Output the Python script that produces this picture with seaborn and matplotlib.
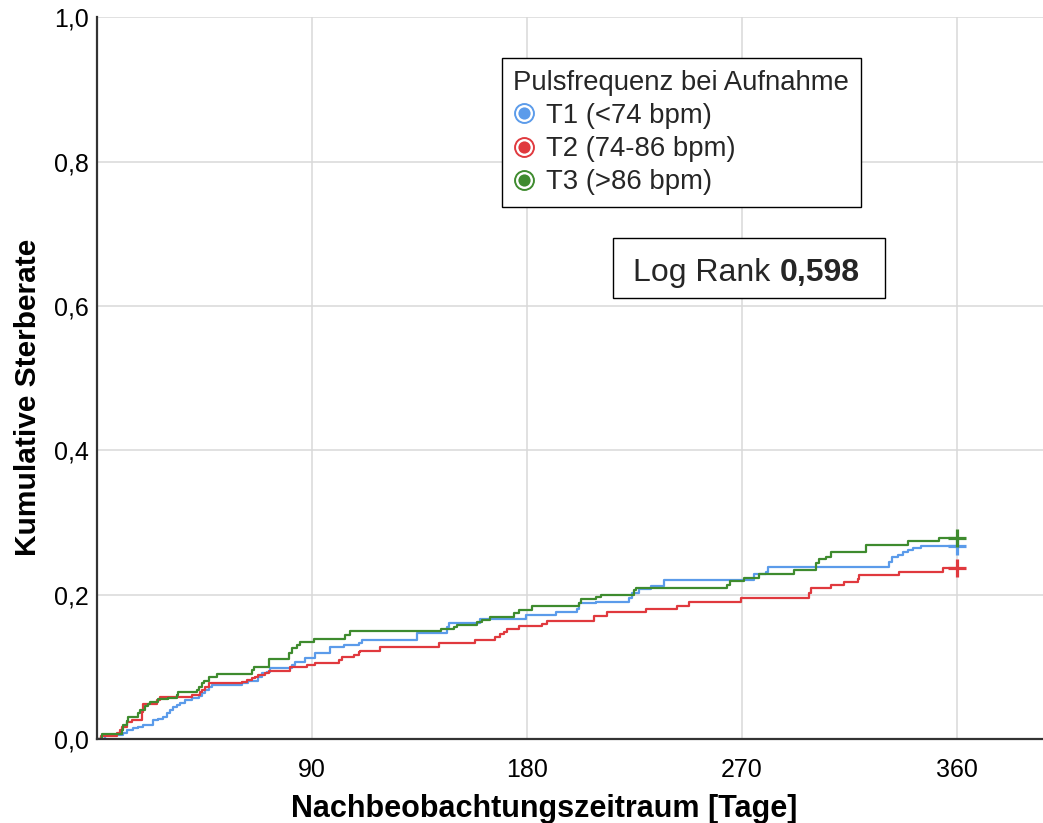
import matplotlib
matplotlib.use("Agg")
import numpy as np
import pandas as pd
import matplotlib.pyplot as plt
import seaborn as sns
from matplotlib.lines import Line2D
from matplotlib.patches import Rectangle
from matplotlib.ticker import FuncFormatter, FixedLocator

# Kaplan-Meier style cumulative mortality per heart-rate tertile
groups = ["T1 (<74 bpm)", "T2 (74-86 bpm)", "T3 (>86 bpm)"]
colors = ["#5b9bea", "#e0393e", "#3e8b2e"]
legend_title = "Pulsfrequenz bei Aufnahme"

t1_days = [3.5, 11.0, 12.4, 15.2, 17.3, 19.4, 23.6, 25.7, 27.8, 29.2, 30.6, 32.0,
           33.4, 34.8, 36.9, 39.7, 42.5, 43.9, 45.3, 46.7, 48.1, 60.6, 63.4, 67.6,
           69.0, 71.1, 72.5, 81.6, 83.0, 87.2, 91.4, 97.7, 103.2, 109.5, 110.9,
           134.0, 146.6, 147.2, 160.5, 179.4, 192.0, 201.0, 201.7, 208.7, 222.7,
           224.1, 226.9, 231.8, 237.4, 275.1, 280.0, 280.7, 331.6, 333.0, 335.2,
           337.3, 339.3, 341.4, 344.9]
t1_rate = [0.005, 0.008, 0.0125, 0.015, 0.017, 0.020, 0.026, 0.028, 0.030, 0.036,
           0.040, 0.044, 0.047, 0.050, 0.054, 0.057, 0.060, 0.064, 0.068, 0.072,
           0.075, 0.078, 0.080, 0.086, 0.091, 0.093, 0.098, 0.102, 0.107, 0.112,
           0.119, 0.127, 0.130, 0.133, 0.137, 0.147, 0.155, 0.161, 0.166, 0.172,
           0.176, 0.180, 0.188, 0.190, 0.196, 0.202, 0.208, 0.212, 0.220, 0.228,
           0.232, 0.238, 0.245, 0.252, 0.255, 0.259, 0.262, 0.265, 0.267]

t2_days = [1.5, 8.2, 9.6, 10.3, 12.4, 14.5, 18.7, 19.1, 25.0, 26.4, 39.7, 43.2,
           43.9, 45.3, 46.7, 60.6, 62.7, 64.8, 66.2, 67.6, 70.4, 71.8, 80.9, 87.9,
           91.4, 101.1, 102.5, 107.4, 109.5, 110.2, 118.6, 143.0, 158.4, 166.8,
           168.9, 170.3, 171.7, 176.6, 186.4, 188.5, 208.0, 213.6, 229.7, 243.0,
           247.8, 269.5, 298.1, 298.8, 307.2, 312.8, 318.4, 319.1, 335.8, 354.0]
t2_rate = [0.004, 0.008, 0.0125, 0.017, 0.024, 0.027, 0.037, 0.049, 0.054, 0.058,
           0.061, 0.065, 0.068, 0.072, 0.077, 0.079, 0.082, 0.084, 0.086, 0.089,
           0.091, 0.094, 0.100, 0.103, 0.106, 0.110, 0.114, 0.117, 0.120, 0.122,
           0.127, 0.133, 0.137, 0.141, 0.145, 0.148, 0.152, 0.156, 0.159, 0.163,
           0.170, 0.176, 0.180, 0.184, 0.190, 0.195, 0.202, 0.209, 0.213, 0.217,
           0.222, 0.227, 0.231, 0.237]

t3_days = [2.2, 10.3, 11.0, 12.4, 13.1, 17.0, 18.0, 20.1, 21.5, 22.2, 25.7, 29.9,
           33.4, 34.1, 41.8, 42.5, 43.9, 45.0, 46.7, 50.2, 64.8, 65.9, 71.8, 80.2,
           81.6, 83.7, 85.1, 90.7, 104.0, 106.0, 143.8, 149.3, 150.7, 159.1, 161.2,
           164.7, 174.5, 176.6, 182.2, 201.7, 202.4, 208.7, 210.8, 224.8, 225.5,
           263.9, 264.9, 270.9, 277.2, 291.8, 300.9, 302.3, 305.1, 307.2, 321.9,
           339.3, 352.6]
t3_rate = [0.007, 0.0125, 0.019, 0.025, 0.030, 0.036, 0.040, 0.046, 0.049, 0.051,
           0.055, 0.057, 0.061, 0.065, 0.068, 0.072, 0.077, 0.080, 0.086, 0.090,
           0.095, 0.100, 0.111, 0.119, 0.126, 0.130, 0.134, 0.138, 0.144, 0.150,
           0.152, 0.155, 0.158, 0.162, 0.165, 0.169, 0.174, 0.179, 0.184, 0.189,
           0.194, 0.197, 0.200, 0.206, 0.209, 0.214, 0.219, 0.223, 0.228, 0.234,
           0.244, 0.249, 0.252, 0.259, 0.269, 0.274, 0.278]

follow_up_end = 360
x_ticks = [90, 180, 270, 360]
y_ticks = [0.0, 0.2, 0.4, 0.6, 0.8, 1.0]
log_rank_p = "0,598"

# Long-format tables: step curves and censoring marks at the end of follow-up
series = [(t1_days, t1_rate), (t2_days, t2_rate), (t3_days, t3_rate)]
rows, ends = [], []
for name, (days, rate) in zip(groups, series):
    d = [0.0] + list(days) + [follow_up_end]
    r = [0.0] + list(rate) + [rate[-1]]
    rows.append(pd.DataFrame({"day": d, "rate": r, "group": name}))
    ends.append({"day": follow_up_end, "rate": rate[-1], "group": name})
curves = pd.concat(rows, ignore_index=True)
censor = pd.DataFrame(ends)
palette = dict(zip(groups, colors))

sns.set_theme(style="whitegrid")
plt.rcParams["font.family"] = ["Liberation Sans", "DejaVu Sans"]

fig = plt.figure(figsize=(10.43, 8.23), dpi=100)
ax = fig.add_axes([0.093, 0.102, 0.907, 0.877])

sns.lineplot(data=curves, x="day", y="rate", hue="group", palette=palette,
             estimator=None, drawstyle="steps-post", linewidth=1.6,
             legend=False, ax=ax)
sns.scatterplot(data=censor, x="day", y="rate", hue="group", palette=palette,
                marker="+", s=170, linewidth=2.3, legend=False, ax=ax, zorder=5)

ax.set_xlim(0, 396)
ax.set_ylim(0, 1.0)
ax.xaxis.set_major_locator(FixedLocator(x_ticks))
ax.yaxis.set_major_locator(FixedLocator(y_ticks))
ax.yaxis.set_major_formatter(FuncFormatter(lambda v, _: f"{v:.1f}".replace(".", ",")))
ax.tick_params(axis="both", length=0, labelsize=18, colors="black")
ax.tick_params(axis="x", pad=14)
ax.tick_params(axis="y", pad=6)

ax.set_facecolor("white")
ax.grid(True, color="#d9d9d9", linewidth=1.1)
for side in ["top", "right"]:
    ax.spines[side].set_visible(False)
for side in ["left", "bottom"]:
    ax.spines[side].set_visible(True)
    ax.spines[side].set_color("#333333")
    ax.spines[side].set_linewidth(1.6)
    ax.spines[side].set_zorder(6)

ax.set_xlabel("Nachbeobachtungszeitraum [Tage]", fontsize=22, fontweight="bold",
              color="black")
ax.set_ylabel("Kumulative Sterberate", fontsize=21.5, fontweight="bold",
              color="black")
ax.xaxis.set_label_coords(0.4725, -0.076)
ax.yaxis.set_label_coords(-0.058, 0.474)

# Legend with ringed circle markers
handles = []
for c in colors:
    outer = Line2D([], [], ls="", marker="o", ms=14, mfc=c, mec=c)
    inner = Line2D([], [], ls="", marker="o", ms=10.5, mfc=c, mec="white", mew=1.7)
    handles.append((outer, inner))
leg = ax.legend(handles, groups, title=legend_title, loc="upper left",
                bbox_to_anchor=(0.428, 0.943), fontsize=19.8, title_fontsize=19.8,
                frameon=True, fancybox=False, edgecolor="black", framealpha=1,
                handlelength=0.8, handletextpad=0.4, labelspacing=0.26,
                borderpad=0.42, alignment="left", borderaxespad=0)
leg.get_frame().set_linewidth(1.0)

# Log-rank annotation box
ax.add_patch(Rectangle((0.545, 0.611), 0.288, 0.083, transform=ax.transAxes,
                       facecolor="white", edgecolor="black", linewidth=1.0, zorder=7))
ax.text(0.567, 0.634, "Log Rank", transform=ax.transAxes, fontsize=23,
        va="baseline", ha="left", zorder=8)
ax.text(0.722, 0.634, log_rank_p, transform=ax.transAxes, fontsize=23,
        fontweight="bold", va="baseline", ha="left", zorder=8)

fig.savefig("out.png", dpi=100, facecolor="white")
